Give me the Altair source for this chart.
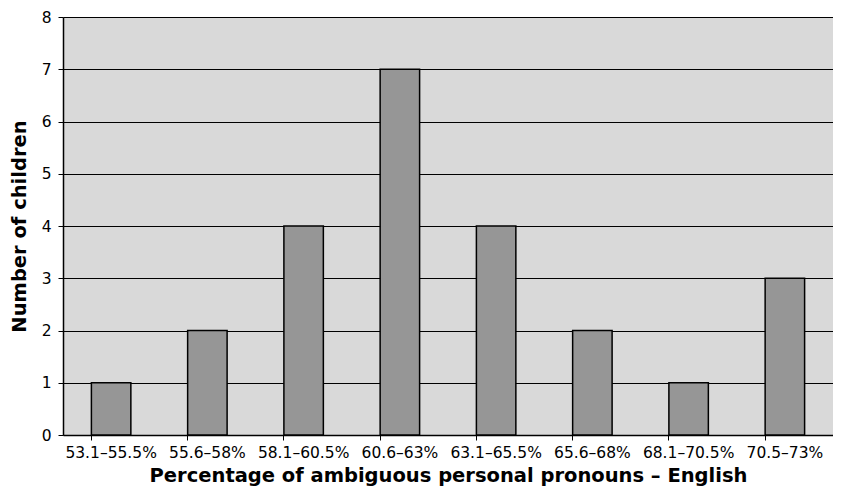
import altair as alt
import pandas as pd

categories = ["53.1–55.5%", "55.6–58%", "58.1–60.5%", "60.6–63%",
              "63.1–65.5%", "65.6–68%", "68.1–70.5%", "70.5–73%"]
counts = [1, 2, 4, 7, 4, 2, 1, 3]

df = pd.DataFrame({"range": categories, "count": counts})

FONT = "DejaVu Sans"

x_enc = alt.X("range:N", sort=categories,
              scale=alt.Scale(paddingInner=0.59, paddingOuter=0.295),
              axis=alt.Axis(title="Percentage of ambiguous personal pronouns – English",
                            labelAngle=0, labelFont=FONT, labelFontSize=15.5,
                            labelColor="black", labelPadding=5,
                            titleFont=FONT, titleFontSize=19.5, titleFontWeight="bold",
                            titleColor="black", titlePadding=6,
                            domainColor="black", domainWidth=1.5,
                            ticks=True, tickColor="black", tickSize=5,
                            bandPosition=0))

bars = alt.Chart(df).mark_bar(color="#969696", stroke="black", strokeWidth=1.5).encode(
    x=x_enc,
    y=alt.Y("count:Q", scale=alt.Scale(domain=[0, 8], nice=False),
            axis=alt.Axis(title="Number of children", values=list(range(9)),
                          labelFont=FONT, labelFontSize=15.5, labelColor="black",
                          labelPadding=7,
                          titleFont=FONT, titleFontSize=19.5, titleFontWeight="bold",
                          titleColor="black", titlePadding=12,
                          domainColor="black", domainWidth=1.5,
                          tickColor="black", tickSize=5,
                          grid=True, gridColor="black", gridWidth=1)),
)

chart = bars.properties(
    width=770, height=418,
    background="white",
    autosize=alt.AutoSizeParams(type="none"),
    padding={"left": 55, "top": 9, "right": 0, "bottom": 51},
).configure_view(fill="#d9d9d9", strokeWidth=0)

chart.save("out.html", embed_options={"renderer": "svg", "actions": False})
